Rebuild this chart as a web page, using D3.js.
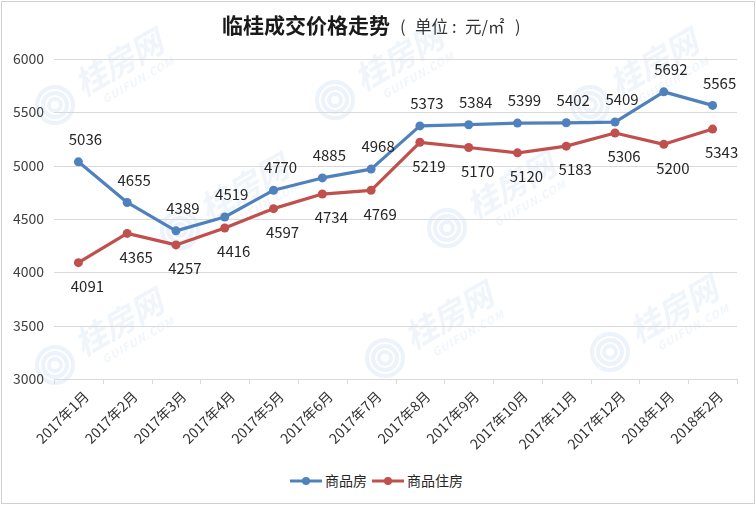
<!DOCTYPE html>
<html><head><meta charset="utf-8">
<script src="https://cdn.jsdelivr.net/npm/d3@7"></script>
<style>
html,body{margin:0;padding:0;background:#fff;}
svg{display:block;font-family:"Noto Sans CJK SC","Microsoft YaHei",sans-serif;}
</style></head>
<body>
<svg id="chart" width="756" height="505"></svg>
<script>
const categories = ["2017年1月","2017年2月","2017年3月","2017年4月","2017年5月","2017年6月","2017年7月","2017年8月","2017年9月","2017年10月","2017年11月","2017年12月","2018年1月","2018年2月"];
const commercial = [5036,4655,4389,4519,4770,4885,4968,5373,5384,5399,5402,5409,5692,5565];
const residential = [4091,4365,4257,4416,4597,4734,4769,5219,5170,5120,5183,5306,5200,5343];
const yTicks = [3000,3500,4000,4500,5000,5500,6000];
const seriesNames = ["商品房","商品住房"];

const W = 756, H = 505;
const svg = d3.select("#chart");
const m = {left:54, right:19, top:59, bottom:126};
const x = d3.scalePoint().domain(categories).range([m.left, W - m.right]).padding(0.5);
const y = d3.scaleLinear().domain([3000,6000]).range([379, 59]);
const band = x.step();

// frame
svg.append("rect").attr("x",1.5).attr("y",1.5).attr("width",W-3).attr("height",H-3)
  .attr("fill","#fff").attr("stroke","#d0d0d0").attr("stroke-width",1);

// faint watermarks (kept inside the frame)
const wm = svg.append("g").attr("opacity",0.4);
const wmAnchors = [[55,105],[335,100],[590,105],[180,230],[447,228],[55,365],[385,358],[610,352]];
wmAnchors.forEach(([ax,ay])=>{
  const g = wm.append("g").attr("transform",`translate(${ax},${ay})`);
  [18,12,6].forEach(r=>g.append("circle").attr("r",r).attr("fill","none").attr("stroke","#cfe1f3").attr("stroke-width",4));
  const t = g.append("g").attr("transform","translate(28,-8) rotate(-30)");
  t.append("text").attr("x",0).attr("y",0).attr("font-size",32).attr("font-weight","bold")
    .attr("font-style","italic").attr("fill","#d6e6f6").text("桂房网");
  t.append("text").attr("x",16).attr("y",17).attr("font-size",11).attr("font-weight","bold")
    .attr("font-style","italic").attr("fill","#dbe8f5").attr("letter-spacing",1).text("GUIFUN.COM");
});

// gridlines
svg.append("g").selectAll("line").data(yTicks).join("line")
  .attr("x1",m.left).attr("x2",W-m.right)
  .attr("y1",d=>Math.round(y(d))+0.5).attr("y2",d=>Math.round(y(d))+0.5)
  .attr("stroke","#d9d9d9").attr("stroke-width",1);

// y labels
svg.append("g").selectAll("text").data(yTicks).join("text")
  .attr("x",44).attr("y",d=>y(d)).attr("dy","0.35em").attr("text-anchor","end")
  .attr("font-size",14).attr("fill","#404040").text(d=>d);

// x tick marks
const bounds = categories.map(c=>x(c)-band/2).concat([x(categories[categories.length-1])+band/2]);
svg.append("g").selectAll("line").data(bounds).join("line")
  .attr("x1",d=>Math.round(d)+0.5).attr("x2",d=>Math.round(d)+0.5)
  .attr("y1",379).attr("y2",384).attr("stroke","#d9d9d9");

// x labels
svg.append("g").selectAll("text").data(categories).join("text")
  .attr("transform",d=>`translate(${x(d)+8},${394}) rotate(-45)`)
  .attr("text-anchor","end").attr("dy","0.35em")
  .attr("font-size",14).attr("fill","#333").text(d=>d);

// lines
const colors = ["#4f81bd","#c0504d"];
const series = [commercial, residential];
const line = d3.line().x((d,i)=>x(categories[i])).y(d=>y(d));
series.forEach((s,k)=>{
  svg.append("path").datum(s).attr("d",line).attr("fill","none")
    .attr("stroke",colors[k]).attr("stroke-width",3.2).attr("stroke-linejoin","round");
  svg.append("g").selectAll("circle").data(s).join("circle")
    .attr("cx",(d,i)=>x(categories[i])).attr("cy",d=>y(d)).attr("r",4.5).attr("fill",colors[k]);
});

// data labels
const offs = [[7,-22],[9,24]];
series.forEach((s,k)=>{
  svg.append("g").selectAll("text").data(s).join("text")
    .attr("x",(d,i)=>x(categories[i])+offs[k][0]).attr("y",d=>y(d)+offs[k][1])
    .attr("dy","0.35em").attr("text-anchor","middle")
    .attr("font-size",15).attr("fill","#262626").text(d=>d);
});

// title
svg.append("text").attr("x",222).attr("y",33).attr("fill","#1a1a1a")
  .attr("font-size",21).attr("font-weight","bold").text("临桂成交价格走势");
const sub = svg.append("text").attr("y",33).attr("fill","#333").attr("font-size",16.5);
sub.append("tspan").attr("x",400).text("(");
sub.append("tspan").attr("x",415).text("单位");
sub.append("tspan").attr("x",452).text(":");
sub.append("tspan").attr("x",465).text("元/㎡");
sub.append("tspan").attr("x",515).text(")");

// legend
const legX = [290, 372];
seriesNames.forEach((n,k)=>{
  const g = svg.append("g").attr("transform",`translate(${legX[k]},481)`);
  g.append("line").attr("x1",0).attr("x2",32).attr("stroke",colors[k]).attr("stroke-width",3);
  g.append("circle").attr("cx",16).attr("r",4).attr("fill",colors[k]);
  g.append("text").attr("x",35).attr("dy","0.35em").attr("font-size",14).attr("fill","#262626").text(n);
});
</script>
</body></html>
